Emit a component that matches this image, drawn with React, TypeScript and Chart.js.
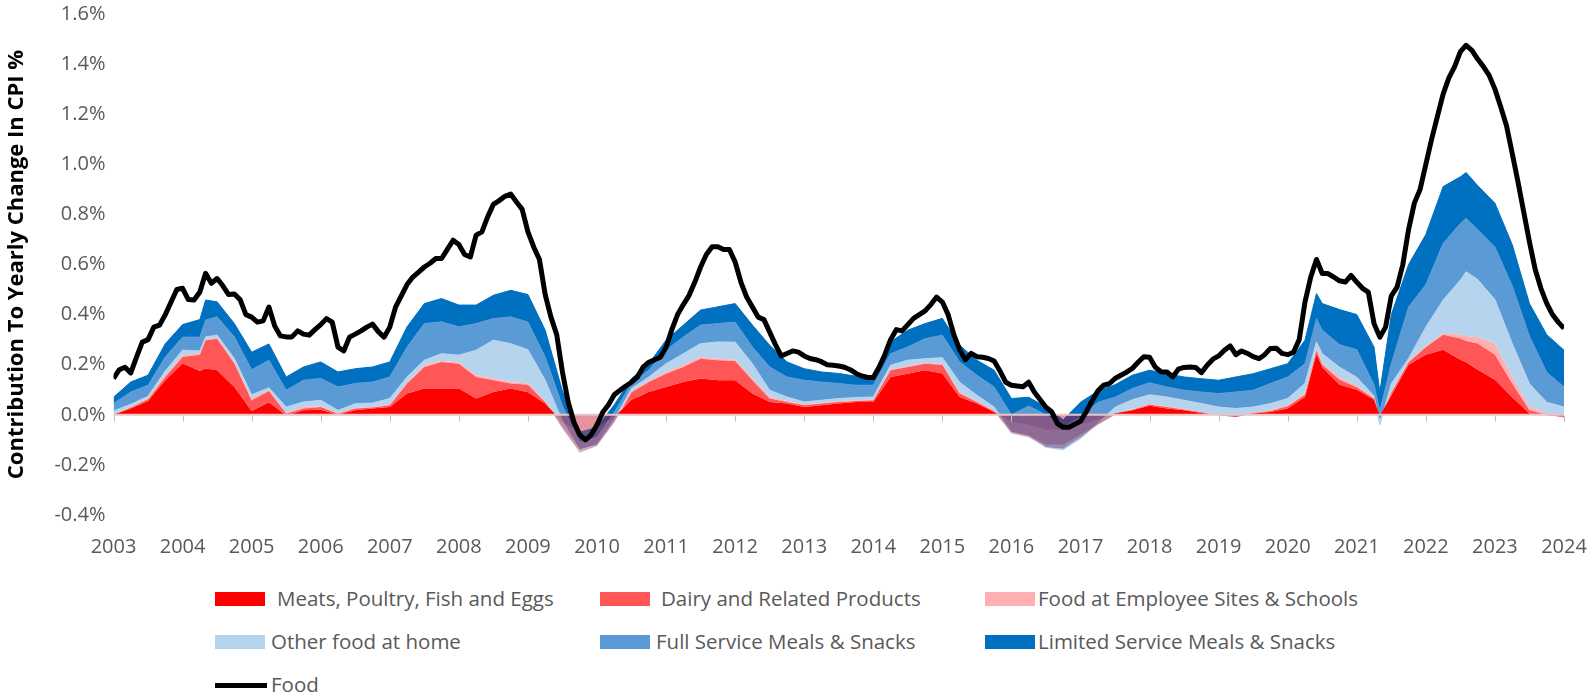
import React, { useEffect, useRef } from 'react';
import { Chart, registerables } from 'chart.js';

Chart.register(...registerables);

// ---------- DATA ----------
const yearTicks = [2003, 2004, 2005, 2006, 2007, 2008, 2009, 2010, 2011, 2012, 2013, 2014, 2015, 2016, 2017, 2018, 2019, 2020, 2021, 2022, 2023, 2024];

// dates of the stacked-area readings (YYYY-MM)
const areaDates = [
  '2003-01', '2003-04', '2003-07', '2003-10',
  '2004-01', '2004-04', '2004-05', '2004-07', '2004-10',
  '2005-01', '2005-04', '2005-07', '2005-10',
  '2006-01', '2006-04', '2006-07', '2006-10',
  '2007-01', '2007-04', '2007-07', '2007-10',
  '2008-01', '2008-04', '2008-07', '2008-10',
  '2009-01', '2009-04', '2009-07', '2009-10',
  '2010-01', '2010-04', '2010-07', '2010-10',
  '2011-01', '2011-04', '2011-07', '2011-10',
  '2012-01', '2012-04', '2012-07', '2012-10',
  '2013-01', '2013-04', '2013-07', '2013-10',
  '2014-01', '2014-04', '2014-07', '2014-10',
  '2015-01', '2015-04', '2015-07', '2015-10',
  '2016-01', '2016-04', '2016-07', '2016-10',
  '2017-01', '2017-04', '2017-07', '2017-10',
  '2018-01', '2018-04', '2018-07', '2018-10',
  '2019-01', '2019-04', '2019-07', '2019-10',
  '2020-01', '2020-04', '2020-06', '2020-07', '2020-10',
  '2021-01', '2021-04', '2021-05', '2021-07', '2021-10',
  '2022-01', '2022-04', '2022-07', '2022-08', '2022-10',
  '2023-01', '2023-04', '2023-07', '2023-10',
  '2024-01',
];

const meats = [
  0, 0.025, 0.055, 0.138,
  0.205, 0.175, 0.185, 0.178, 0.111,
  0.015, 0.05, -0.002, 0.018,
  0.02, 0, 0.018, 0.025,
  0.031, 0.085, 0.105, 0.105,
  0.105, 0.065, 0.091, 0.105,
  0.09, 0.045, -0.03, -0.07,
  -0.05, -0.01, 0.06, 0.091,
  0.111, 0.131, 0.145, 0.138,
  0.138, 0.085, 0.051, 0.045,
  0.031, 0.038, 0.045, 0.051,
  0.051, 0.151, 0.164, 0.178,
  0.165, 0.071, 0.045, 0.011,
  -0.03, -0.04, -0.06, -0.06,
  -0.04, -0.02, 0.005, 0.018,
  0.036, 0.025, 0.018, 0.007,
  -0.002, -0.009, 0.005, 0.011,
  0.025, 0.071, 0.244, 0.19, 0.12,
  0.10, 0.06, -0.005, 0.078, 0.20,
  0.24, 0.26, 0.22, 0.21, 0.18,
  0.14, 0.07, 0.005, -0.002,
  -0.009,
];

const dairy = [
  0, 0.004, 0.007, 0.013,
  0.026, 0.065, 0.113, 0.126, 0.094,
  0.043, 0.045, 0.007, 0.007,
  0.011, 0.004, 0.007, 0.004,
  0.007, 0.04, 0.086, 0.106,
  0.099, 0.086, 0.047, 0.02,
  0.03, 0.006, -0.02, -0.07,
  -0.07, -0.02, 0.03, 0.04,
  0.053, 0.06, 0.079, 0.08,
  0.077, 0.053, 0.014, 0.006,
  0.007, 0.007, 0.006, 0.004,
  0.007, 0.027, 0.027, 0.026,
  0.035, 0.014, 0.006, 0.003,
  -0.04, -0.045, -0.06, -0.06,
  -0.04, -0.02, -0.005, 0.002,
  0.005, 0.006, 0.003, 0.003,
  0, 0.003, 0.002, 0.004,
  0.009, 0.009, 0.014, 0.01, 0.02,
  0.01, 0.005, -0.01, 0.01, 0.01,
  0.03, 0.06, 0.085, 0.085, 0.105,
  0.10, 0.055, 0.013, 0.002,
  -0.002,
];

const employeeSites = [
  0, 0.002, 0.004, 0.007,
  0.007, 0.005, 0.002, 0.004, 0.006,
  0.007, 0.003, 0.003, 0.006,
  0.003, 0.003, 0.002, 0.002,
  0.004, 0.003, 0.007, 0.004,
  0.005, 0.007, 0.007, 0.006,
  0.005, 0.004, -0.005, -0.01,
  -0.005, 0, 0.005, 0.004,
  0.007, 0.007, 0.007, 0.006,
  0.005, 0.007, 0.006, 0.004,
  0.004, 0.002, 0.003, 0.003,
  0.003, 0.002, 0.003, 0.004,
  0.003, 0.006, 0.002, 0.001,
  -0.005, -0.005, -0.01, -0.015,
  -0.01, 0, 0, 0.002,
  0.002, 0.002, 0.002, 0.001,
  0.002, 0.001, 0.001, 0.003,
  0.004, 0.005, 0.006, 0.005, 0.01,
  0.005, 0.003, 0, 0.003, 0.005,
  0.005, 0.005, 0.015, 0.02, 0.025,
  0.045, 0.025, 0.013, 0.005,
  0.002,
];

const otherFoodAtHome = [
  0.015, 0.011, 0.008, 0.017,
  0.02, 0.01, 0.011, 0.01, 0.014,
  0.015, 0.01, 0.023, 0.02,
  0.024, 0.011, 0.017, 0.016,
  0.023, 0.023, 0.02, 0.029,
  0.029, 0.10, 0.153, 0.153,
  0.135, 0.083, 0.03, 0.01,
  0.005, 0.01, 0.01, 0.016,
  0.033, 0.046, 0.053, 0.067,
  0.07, 0.059, 0.027, 0.016,
  0.009, 0.011, 0.011, 0.011,
  0.01, 0.018, 0.024, 0.016,
  0.025, 0.039, 0.025, 0.016,
  0.005, 0.005, 0, -0.005,
  -0.005, 0.005, 0.03, 0.038,
  0.037, 0.038, 0.035, 0.034,
  0.031, 0.03, 0.023, 0.027,
  0.027, 0.04, 0.027, 0.039, 0.04,
  0.035, 0.007, -0.025, 0.033, 0.01,
  0.075, 0.133, 0.218, 0.256, 0.23,
  0.175, 0.135, 0.093, 0.045,
  0.04,
];

const fullService = [
  0.03, 0.049, 0.044, 0.056,
  0.052, 0.055, 0.067, 0.073, 0.086,
  0.10, 0.11, 0.067, 0.087,
  0.087, 0.093, 0.081, 0.084,
  0.086, 0.12, 0.146, 0.127,
  0.113, 0.106, 0.086, 0.107,
  0.11, 0.093, 0.06, 0.03,
  0.03, 0.03, 0.02, 0.027,
  0.054, 0.067, 0.074, 0.073,
  0.08, 0.067, 0.093, 0.08,
  0.087, 0.073, 0.06, 0.049,
  0.047, 0.046, 0.053, 0.08,
  0.09, 0.081, 0.08, 0.08,
  0.07, 0.12, 0.13, 0.09,
  0.085, 0.085, 0.04, 0.045,
  0.048, 0.04, 0.04, 0.046,
  0.054, 0.066, 0.067, 0.08,
  0.086, 0.079, 0.093, 0.094, 0.09,
  0.11, 0.045, 0.055, 0.08, 0.205,
  0.17, 0.226, 0.226, 0.213, 0.20,
  0.21, 0.23, 0.19, 0.12,
  0.08,
];

const limitedService = [
  0.025, 0.04, 0.04, 0.053,
  0.05, 0.07, 0.08, 0.06, 0.053,
  0.07, 0.065, 0.053, 0.053,
  0.066, 0.06, 0.059, 0.06,
  0.06, 0.08, 0.08, 0.093,
  0.087, 0.074, 0.093, 0.106,
  0.11, 0.107, 0.06, 0.04,
  0.04, 0.03, 0.02, 0.026,
  0.04, 0.047, 0.06, 0.067,
  0.074, 0.087, 0.087, 0.06,
  0.046, 0.04, 0.04, 0.036,
  0.027, 0.047, 0.067, 0.06,
  0.067, 0.067, 0.06, 0.067,
  0.065, 0.035, 0.031, 0.03,
  0.06, 0.045, 0.05, 0.053,
  0.05, 0.053, 0.053, 0.053,
  0.053, 0.06, 0.066, 0.059,
  0.053, 0.094, 0.10, 0.106, 0.14,
  0.14, 0.15, 0.075, 0.196, 0.17,
  0.20, 0.227, 0.186, 0.183, 0.175,
  0.175, 0.165, 0.13, 0.15,
  0.147,
];

// Food: monthly, Jan 2003 .. Jan 2024
const foodStart = '2003-01';
const food = [
  0.145, 0.18, 0.19, 0.167, 0.23, 0.29, 0.30, 0.35, 0.358, 0.40, 0.45, 0.50,
  0.505, 0.46, 0.458, 0.49, 0.565, 0.525, 0.544, 0.515, 0.48, 0.482, 0.46, 0.40,
  0.39, 0.37, 0.375, 0.43, 0.355, 0.315, 0.311, 0.311, 0.335, 0.322, 0.318, 0.34,
  0.36, 0.384, 0.37, 0.27, 0.255, 0.31, 0.322, 0.335, 0.35, 0.362, 0.332, 0.31,
  0.35, 0.43, 0.475, 0.52, 0.55, 0.57, 0.59, 0.605, 0.624, 0.624, 0.66, 0.697,
  0.68, 0.64, 0.63, 0.717, 0.73, 0.79, 0.84, 0.855, 0.872, 0.881, 0.85, 0.82,
  0.73, 0.67, 0.62, 0.48, 0.39, 0.32, 0.17, 0.05, -0.03, -0.08, -0.10, -0.08,
  -0.04, 0.01, 0.04, 0.08, 0.098, 0.115, 0.13, 0.15, 0.19, 0.21, 0.22, 0.23,
  0.27, 0.34, 0.40, 0.44, 0.477, 0.53, 0.59, 0.64, 0.671, 0.671, 0.66, 0.66,
  0.61, 0.53, 0.47, 0.43, 0.39, 0.38, 0.33, 0.28, 0.235, 0.245, 0.255, 0.25,
  0.235, 0.225, 0.22, 0.212, 0.20, 0.198, 0.195, 0.19, 0.18, 0.165, 0.155, 0.149,
  0.149, 0.19, 0.24, 0.30, 0.34, 0.335, 0.36, 0.385, 0.40, 0.415, 0.44, 0.47,
  0.45, 0.40, 0.32, 0.26, 0.22, 0.245, 0.232, 0.23, 0.225, 0.215, 0.175, 0.13,
  0.118, 0.115, 0.112, 0.13, 0.09, 0.06, 0.03, 0.012, -0.035, -0.05, -0.05, -0.038,
  -0.025, 0.012, 0.055, 0.095, 0.118, 0.124, 0.145, 0.158, 0.17, 0.185, 0.21, 0.232,
  0.23, 0.19, 0.172, 0.171, 0.151, 0.182, 0.189, 0.191, 0.189, 0.168, 0.198, 0.222,
  0.235, 0.258, 0.275, 0.24, 0.255, 0.245, 0.232, 0.224, 0.24, 0.265, 0.266, 0.245,
  0.24, 0.25, 0.30, 0.45, 0.55, 0.62, 0.564, 0.564, 0.55, 0.535, 0.53, 0.556,
  0.53, 0.505, 0.49, 0.364, 0.31, 0.35, 0.475, 0.51, 0.60, 0.74, 0.845, 0.90,
  1.00, 1.10, 1.19, 1.28, 1.345, 1.39, 1.45, 1.475, 1.455, 1.42, 1.39, 1.355,
  1.30, 1.23, 1.155, 1.044, 0.93, 0.81, 0.69, 0.58, 0.504, 0.445, 0.40, 0.37,
  0.345,
];

const seriesNames = [
  'Meats, Poultry, Fish and Eggs',
  'Dairy and Related Products',
  'Food at Employee Sites & Schools',
  'Other food at home',
  'Full Service Meals & Snacks',
  'Limited Service Meals & Snacks',
];
const seriesColors = ['#FF0000', '#FF5757', '#FFAFAF', '#B7D4EE', '#5B9BD5', '#0070C0'];
// colour used where a red series lies below the one it stacks on (blends with the blue underneath)
const seriesBelowColors = ['rgba(190,0,30,0.42)', 'rgba(215,40,60,0.42)', 'rgba(230,120,130,0.42)', '#B7D4EE', '#5B9BD5', '#0070C0'];
const foodLabel = 'Food';
const yTitle = 'Contribution To Yearly Change In CPI %';

// ---------- STYLE ----------
const FONT = "'Open Sans', sans-serif";
const TICK_COLOR = '#595959';

const toYear = (s: string) => {
  const [y, m] = s.split('-').map(Number);
  return y + (m - 1) / 12;
};

const zeroAxisPlugin = {
  id: 'zeroAxis',
  afterDatasetDraw(chart: any, args: any) {
    if (args.index !== 1) return;
    const { ctx, chartArea, scales } = chart;
    const y0 = scales.y.getPixelForValue(0);
    ctx.save();
    ctx.strokeStyle = '#E8C6C6';
    ctx.lineWidth = 2;
    ctx.beginPath();
    ctx.moveTo(chartArea.left, y0);
    ctx.lineTo(chartArea.right, y0);
    ctx.stroke();
    ctx.strokeStyle = '#BFBFBF';
    ctx.lineWidth = 1;
    ctx.beginPath();
    for (const yr of yearTicks) {
      const px = Math.round(scales.x.getPixelForValue(yr)) + 0.5;
      ctx.moveTo(px, y0 + 1);
      ctx.lineTo(px, y0 + 7);
    }
    ctx.stroke();
    ctx.restore();
  },
};

export default function App() {
  const canvasRef = useRef<HTMLCanvasElement>(null);

  useEffect(() => {
    document.body.style.margin = '0';
    const canvas = canvasRef.current;
    if (!canvas) return;
    const ax = areaDates.map(toYear);
    const series = [meats, dairy, employeeSites, otherFoodAtHome, fullService, limitedService];
    // draw order: blue layers first, red layers on top
    const drawOrder = [2, 3, 4, 5, 6, 7];
    let cum = ax.map(() => 0);
    const areaSets = series.map((vals, i) => {
      cum = cum.map((c, j) => c + vals[j]);
      return {
        label: seriesNames[i],
        data: ax.map((x, j) => ({ x, y: cum[j] })),
        backgroundColor: seriesColors[i],
        borderColor: seriesColors[i],
        borderWidth: i < 3 ? 0 : 1,
        pointRadius: 0,
        tension: 0,
        fill: { target: i === 0 ? 'origin' : '-1', above: seriesColors[i], below: seriesBelowColors[i] },
        order: drawOrder[i],
      };
    });
    const f0 = toYear(foodStart);
    const foodSet = {
      label: foodLabel,
      data: food.map((v, i) => ({ x: f0 + i / 12, y: v })),
      borderColor: '#000000',
      backgroundColor: '#000000',
      borderWidth: 5,
      pointRadius: 0,
      tension: 0,
      fill: false,
      order: 0,
      borderJoinStyle: 'round',
    };

    const chart = new Chart(canvas, {
      type: 'line',
      data: { datasets: [foodSet, ...areaSets] as any },
      options: {
        animation: false,
        responsive: false,
        events: [],
        layout: { padding: { top: 14, right: 25, left: 0, bottom: 0 } },
        plugins: { legend: { display: false }, tooltip: { enabled: false } },
        scales: {
          x: {
            type: 'linear',
            min: 2003,
            max: 2024,
            grid: { display: false, drawTicks: false },
            border: { display: false },
            ticks: {
              stepSize: 1,
              autoSkip: false,
              maxRotation: 0,
              padding: 20,
              color: TICK_COLOR,
              font: { family: FONT, size: 20 },
              callback: (v: any) => String(v),
            },
            afterFit: (s: any) => { s.height = 50; s.paddingLeft = 0; s.paddingRight = 0; },
          },
          y: {
            min: -0.4,
            max: 1.6,
            grid: { display: false, drawTicks: false },
            border: { display: false },
            ticks: {
              stepSize: 0.2,
              padding: 8,
              color: TICK_COLOR,
              font: { family: FONT, size: 20 },
              callback: (v: any) => (Math.abs(v) < 1e-9 ? 0 : v).toFixed(1) + '%',
            },
            title: {
              display: true,
              text: yTitle,
              color: '#000000',
              font: { family: FONT, size: 22, weight: 'bold' },
              padding: { top: 4, bottom: 0 },
            },
            afterFit: (s: any) => { s.width = 113.5; s.paddingTop = 0; s.paddingBottom = 0; },
          },
        },
      },
      plugins: [zeroAxisPlugin],
    } as any);
    return () => chart.destroy();
  }, []);

  const legendText: React.CSSProperties = {
    position: 'absolute',
    fontFamily: FONT,
    fontSize: 20.5,
    color: TICK_COLOR,
    whiteSpace: 'nowrap',
    lineHeight: '24px',
  };
  const rowsTop = [599, 642, 685];
  const swatchLeft = [215, 600, 985];
  const textLeft = [[277, 661, 1038], [271, 656, 1038]];
  const items = seriesNames.map((name, i) => ({ name, color: seriesColors[i], row: Math.floor(i / 3), col: i % 3 }));

  return (
    <div style={{ position: 'relative', width: 1589, height: 694, background: '#fff', overflow: 'hidden' }}>
      <canvas ref={canvasRef} width={1589} height={565} style={{ position: 'absolute', left: 0, top: 0, width: 1589, height: 565 }} />
      {items.map((it) => (
        <React.Fragment key={it.name}>
          <div style={{ position: 'absolute', left: swatchLeft[it.col], top: rowsTop[it.row] - 7, width: 50, height: 14, background: it.color }} />
          <div style={{ ...legendText, left: textLeft[it.row][it.col], top: rowsTop[it.row] - 13 }}>{it.name}</div>
        </React.Fragment>
      ))}
      <div style={{ position: 'absolute', left: swatchLeft[0], top: rowsTop[2] - 2, width: 52, height: 5, background: '#000' }} />
      <div style={{ ...legendText, left: 271, top: rowsTop[2] - 13 }}>{foodLabel}</div>
    </div>
  );
}
